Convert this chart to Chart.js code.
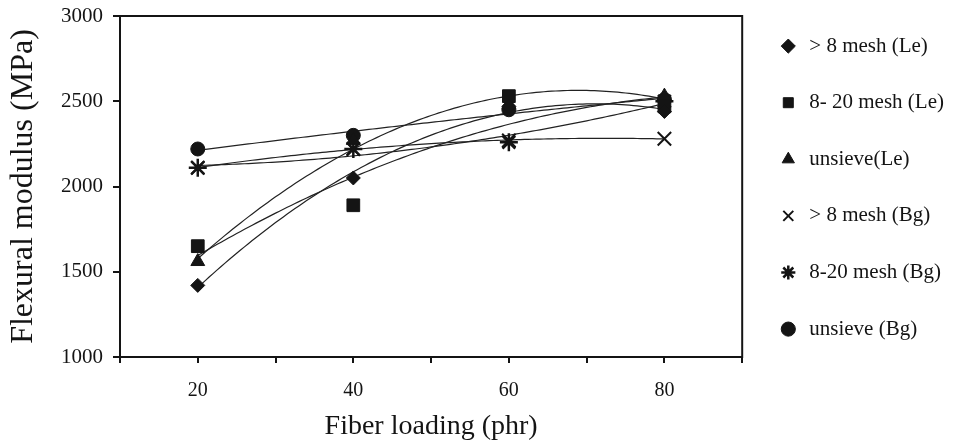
<!DOCTYPE html>
<html>
<head>
<meta charset="utf-8">
<script src="https://cdn.jsdelivr.net/npm/chart.js@4/dist/chart.umd.min.js"></script>
<style>
  html, body { margin: 0; padding: 0; background: #fff; }
  #wrap { width: 954px; height: 443px; }
</style>
</head>
<body>
<div id="wrap"><canvas id="c" width="954" height="443"></canvas></div>
<script>
// ---- data ----
const fiberLoading = [20, 40, 60, 80];           // phr
const xTickLabels = [20, 40, 60, 80];
const yTicks = [1000, 1500, 2000, 2500, 3000];

const seriesNames = ['> 8 mesh (Le)', '8- 20 mesh (Le)', 'unsieve(Le)', '> 8 mesh (Bg)', '8-20 mesh (Bg)', 'unsieve (Bg)'];
const gt8Le    = [1420, 2050, 2470, 2440];
const m820Le   = [1650, 1890, 2530, 2470];
const unsLe    = [1560, 2270, 2480, 2530];
const gt8Bg    = [2110, 2220, 2270, 2280];
const m820Bg   = [2110, 2220, 2260, 2500];
const unsBg    = [2220, 2300, 2450, 2510];

const seriesValues = [gt8Le, m820Le, unsLe, gt8Bg, m820Bg, unsBg];
const pointStyles = ['rectRot', 'rect', 'triangle', 'crossRot', 'star', 'circle'];
const pointRadii  = [7, 9, 8, 9.5, 9, 7];
const pointBorders = [1, 1, 1, 2, 2.5, 1];

const INK = '#141414';
const SERIF = "'Liberation Serif', 'DejaVu Serif', serif";

const datasets = seriesValues.map((vals, i) => ({
  label: seriesNames[i],
  data: fiberLoading.map((x, j) => ({ x: x, y: vals[j] })),
  showLine: false,
  pointStyle: pointStyles[i],
  pointRadius: pointRadii[i],
  pointHoverRadius: pointRadii[i],
  pointBackgroundColor: INK,
  pointBorderColor: INK,
  pointBorderWidth: pointBorders[i],
  borderColor: INK,
  backgroundColor: INK
}));

// quadratic least-squares trendline (like a spreadsheet polynomial trendline)
function quadFit(xs, ys) {
  let n = xs.length, s = [0,0,0,0,0], t = [0,0,0];
  for (let i = 0; i < n; i++) {
    const x = xs[i], y = ys[i];
    for (let k = 0; k < 5; k++) s[k] += Math.pow(x, k);
    for (let k = 0; k < 3; k++) t[k] += y * Math.pow(x, k);
  }
  const M = [[s[0], s[1], s[2], t[0]], [s[1], s[2], s[3], t[1]], [s[2], s[3], s[4], t[2]]];
  for (let c = 0; c < 3; c++) {
    let p = c;
    for (let r = c + 1; r < 3; r++) if (Math.abs(M[r][c]) > Math.abs(M[p][c])) p = r;
    [M[c], M[p]] = [M[p], M[c]];
    for (let r = 0; r < 3; r++) {
      if (r === c) continue;
      const f = M[r][c] / M[c][c];
      for (let k = c; k < 4; k++) M[r][k] -= f * M[c][k];
    }
  }
  return [M[0][3] / M[0][0], M[1][3] / M[1][1], M[2][3] / M[2][2]];
}

const trendPlugin = {
  id: 'trend',
  beforeDatasetsDraw(chart) {
    const { ctx, chartArea: a, scales: { x, y } } = chart;
    ctx.save();
    // plot frame
    ctx.strokeStyle = INK;
    ctx.lineWidth = 2;
    ctx.strokeRect(a.left, a.top, a.right - a.left, a.bottom - a.top);
    // trendlines
    ctx.lineWidth = 1.2;
    ctx.strokeStyle = '#222';
    seriesValues.forEach(vals => {
      const c = quadFit(fiberLoading, vals);
      const x0 = fiberLoading[0], x1 = fiberLoading[fiberLoading.length - 1];
      ctx.beginPath();
      for (let k = 0; k <= 120; k++) {
        const xv = x0 + (x1 - x0) * k / 120;
        const yv = c[0] + c[1] * xv + c[2] * xv * xv;
        const px = x.getPixelForValue(xv), py = y.getPixelForValue(yv);
        if (k === 0) ctx.moveTo(px, py); else ctx.lineTo(px, py);
      }
      ctx.stroke();
    });
    ctx.restore();
  }
};

new Chart(document.getElementById('c'), {
  type: 'scatter',
  data: { datasets },
  plugins: [trendPlugin],
  options: {
    responsive: false,
    animation: false,
    events: [],
    layout: { padding: { top: 0, left: 0, right: 0, bottom: 0 } },
    plugins: {
      tooltip: { enabled: false },
      legend: {
        position: 'right',
        align: 'start',
        maxWidth: 212,
        labels: {
          usePointStyle: true,
          boxWidth: 21,
          boxHeight: 10,
          padding: 35.6,
          color: INK,
          font: { family: SERIF, size: 21 }
        }
      }
    },
    scales: {
      x: {
        type: 'linear',
        min: 10, max: 90,
        afterFit(s) { s.height = 86; },
        border: { color: INK, width: 2 },
        grid: { drawOnChartArea: false, drawTicks: true, tickLength: 6, color: INK, lineWidth: 2 },
        ticks: {
          stepSize: 10,
          padding: 16,
          color: INK,
          font: { family: SERIF, size: 20 },
          maxRotation: 0,
          callback: v => xTickLabels.includes(v) ? String(v) : ''
        },
        title: {
          display: true,
          text: 'Fiber loading (phr)',
          color: INK,
          font: { family: SERIF, size: 28 },
          padding: { top: 0, bottom: 0 }
        }
      },
      y: {
        min: yTicks[0], max: yTicks[yTicks.length - 1],
        afterFit(s) { s.width = 120; s.paddingTop = 16; },
        border: { color: INK, width: 2 },
        grid: { drawOnChartArea: false, drawTicks: true, tickLength: 7, color: INK, lineWidth: 2 },
        afterBuildTicks(s) { s.ticks = yTicks.map(v => ({ value: v })); },
        ticks: {
          padding: 10,
          color: INK,
          font: { family: SERIF, size: 21 },
          callback: v => String(v)
        },
        title: {
          display: true,
          text: 'Flexural modulus (MPa)',
          color: INK,
          font: { family: SERIF, size: 32 },
          padding: { top: 4, bottom: 0 }
        }
      }
    }
  }
});
</script>
</body>
</html>
